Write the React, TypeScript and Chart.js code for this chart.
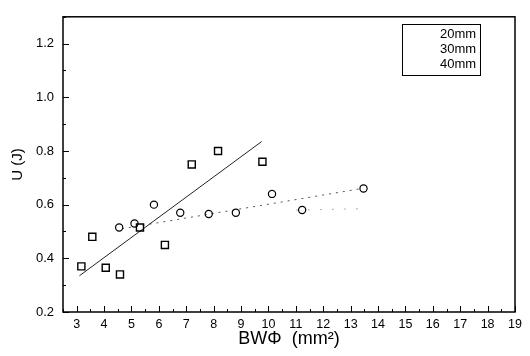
import React, { useEffect, useRef } from "react";
import { Chart, registerables } from "chart.js";

Chart.register(...registerables);

const squareX = [3.17, 3.57, 4.06, 4.58, 5.31, 6.22, 7.2, 8.16, 9.78];
const squareY = [0.37, 0.48, 0.365, 0.34, 0.515, 0.45, 0.75, 0.8, 0.76];
const circleX = [4.55, 5.11, 5.82, 6.78, 7.82, 8.81, 10.13, 11.23, 13.47];
const circleY = [0.515, 0.53, 0.6, 0.57, 0.565, 0.57, 0.64, 0.58, 0.66];
const fit20X = [3.1, 9.75];
const fit20Y = [0.335, 0.835];
const fit30X = [4.65, 13.4];
const fit30Y = [0.51, 0.66];
const fit40X = [11.0, 13.5];
const fit40Y = [0.58, 0.585];
const legendLabels = ["20mm", "30mm", "40mm"];
const xTickValues = [3, 4, 5, 6, 7, 8, 9, 10, 11, 12, 13, 14, 15, 16, 17, 18, 19];
const yTickValues = [0.2, 0.4, 0.6, 0.8, 1.0, 1.2];
const xMin = 2.5, xMax = 19, yMin = 0.2, yMax = 1.3;

const FONT = "'Liberation Sans', Arial, sans-serif";
const pts = (xs: number[], ys: number[]) => xs.map((x, i) => ({ x, y: ys[i] }));

const framePlugin = {
  id: "frame",
  afterDraw(chart: any) {
    const { ctx, chartArea: a, scales } = chart;
    const xs = scales.x, ys = scales.y;
    ctx.save();
    ctx.strokeStyle = "#000";
    ctx.lineWidth = 1.5;
    ctx.strokeRect(a.left, a.top, a.right - a.left, a.bottom - a.top);
    ctx.lineWidth = 1;
    ctx.beginPath();
    for (let v = xMin; v <= xMax + 1e-9; v += 0.5) {
      const px = Math.round(xs.getPixelForValue(v)) + 0.5;
      const major = Math.abs(v - Math.round(v)) < 1e-6;
      ctx.moveTo(px, a.bottom);
      ctx.lineTo(px, a.bottom - (major ? 6 : 3));
    }
    for (let v = yMin; v <= yMax + 1e-9; v += 0.1) {
      const py = Math.round(ys.getPixelForValue(v)) + 0.5;
      const major = Math.abs(v * 5 - Math.round(v * 5)) < 1e-6;
      ctx.moveTo(a.left, py);
      ctx.lineTo(a.left + (major ? 6 : 3), py);
    }
    ctx.stroke();
    // legend box
    const bx = 402, by = 24, bw = 78, bh = 51;
    ctx.lineWidth = 1;
    ctx.strokeRect(bx + 0.5, by + 0.5, bw, bh);
    ctx.fillStyle = "#000";
    ctx.font = `13px ${FONT}`;
    ctx.textBaseline = "middle";
    ctx.textAlign = "left";
    legendLabels.forEach((l, i) => ctx.fillText(l, 440, 34 + i * 15));
    ctx.restore();
  },
};

export default function App() {
  const ref = useRef<HTMLCanvasElement>(null);
  useEffect(() => {
    document.body.style.margin = "0";
    const chart = new Chart(ref.current!, {
      type: "scatter",
      data: {
        datasets: [
          {
            label: "20mm",
            data: pts(squareX, squareY),
            pointStyle: "rect",
            pointRadius: 5,
            borderColor: "#000",
            backgroundColor: "rgba(0,0,0,0)",
            borderWidth: 1.4,
            showLine: false,
          },
          {
            label: "30mm",
            data: pts(circleX, circleY),
            pointStyle: "circle",
            pointRadius: 3.6,
            borderColor: "#000",
            backgroundColor: "rgba(0,0,0,0)",
            borderWidth: 1.2,
            showLine: false,
          },
          {
            label: "fit20",
            data: pts(fit20X, fit20Y),
            showLine: true,
            pointRadius: 0,
            borderColor: "#222",
            borderWidth: 1,
          },
          {
            label: "fit30",
            data: pts(fit30X, fit30Y),
            showLine: true,
            pointRadius: 0,
            borderColor: "#555",
            borderWidth: 1,
            borderDash: [2, 5],
          },
          {
            label: "fit40",
            data: pts(fit40X, fit40Y),
            showLine: true,
            pointRadius: 0,
            borderColor: "#aaa",
            borderWidth: 1,
            borderDash: [2, 10],
          },
        ],
      },
      options: {
        animation: false,
        responsive: false,
        layout: { padding: { top: 9, right: 15, left: 0, bottom: 0 } },
        plugins: { legend: { display: false }, tooltip: { enabled: false } },
        scales: {
          x: {
            type: "linear",
            min: xMin,
            max: xMax,
            afterBuildTicks: (s: any) => {
              s.ticks = xTickValues.map((v) => ({ value: v }));
            },
            afterFit: (s: any) => {
              s.height = 44;
            },
            grid: { display: false, drawTicks: false },
            border: { display: false },
            ticks: {
              padding: 5,
              color: "#000",
              autoSkip: false,
              maxRotation: 0,
              font: { family: FONT, size: 12.5 },
            },
            title: {
              display: true,
              text: "BWΦ  (mm²)",
              color: "#000",
              padding: { top: 6, bottom: 6 },
              font: { family: FONT, size: 18 },
            },
          },
          y: {
            type: "linear",
            min: yMin,
            max: yMax,
            afterBuildTicks: (s: any) => {
              s.ticks = yTickValues.map((v) => ({ value: v }));
            },
            afterFit: (s: any) => {
              s.width = 63;
            },
            grid: { display: false, drawTicks: false },
            border: { display: false },
            ticks: {
              padding: 9,
              color: "#000",
              callback: (v: any) => Number(v).toFixed(1),
              font: { family: FONT, size: 13 },
            },
            title: {
              display: true,
              text: "U (J)",
              color: "#000",
              padding: { top: 9, bottom: 8 },
              font: { family: FONT, size: 15 },
            },
          },
        },
      },
      plugins: [framePlugin],
    });
    return () => chart.destroy();
  }, []);
  return (
    <div style={{ position: "absolute", left: 0, top: 0, width: 530, height: 356 }}>
      <canvas ref={ref} width={530} height={356} />
    </div>
  );
}
